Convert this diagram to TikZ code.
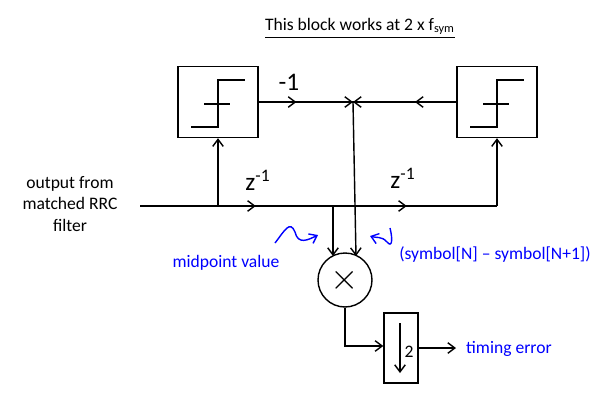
\documentclass[tikz,border=0pt]{standalone}
\usepackage{fontspec}
\setmainfont{Carlito}
\usetikzlibrary{arrows.meta,positioning,decorations.markings}
\tikzset{
  blk/.style={draw,thick,minimum width=1.6cm,minimum height=1.42cm},
  wire/.style={thick},
  midarrow/.style={thick,decoration={markings,mark=at position #1 with {\arrow{>}}},postaction={decorate}},
  note/.style={text=blue},
}
\begin{document}
\begin{tikzpicture}[x=0.02cm,y=-0.02cm,>={Straight Barb[length=4pt,width=6pt]}]
\useasboundingbox (0,0) rectangle (609,406);
% title
\node at (360,28) {\underline{This block works at 2 x f\textsubscript{sym}}};
% slicers
\node[blk] (lsl) at (218,102) {};
\node[blk] (rsl) at (497,102) {};
\foreach \s in {lsl,rsl}{
  \draw[wire] (\s.center) ++(-27,25) -- ++(27,0) -- ++(0,-47) -- ++(27,0);
  \draw[wire] (\s.center) ++(-14,2) -- ++(26,0);
}
\coordinate (jn) at (353,102);
\draw[midarrow=0.4] (lsl.east) -- (jn);
\draw[midarrow=0.4] (rsl.west) -- (jn);
\draw[thick,->] (lsl.east) -- (jn);
\draw[thick,->] (rsl.west) -- (jn);
\node[font=\Large] at (289,82) {-1};
% main line
\coordinate (in) at (140,206);
\coordinate (ltap) at (218,206);
\coordinate (mtap) at (333,206);
\coordinate (rtap) at (497,206);
\draw[midarrow=0.6] (in) -- (mtap);
\draw[midarrow=0.45] (mtap) -- (rtap);
\draw[wire,->] (ltap) -- (lsl.south);
\draw[wire,->] (rtap) -- (rsl.south);
\node[font=\Large] at (258,180) {z\textsuperscript{-1}};
\node[font=\Large] at (403,178) {z\textsuperscript{-1}};
\node[align=center] at (70,204) {output from\\matched RRC\\filter};
% multiplier
\node[draw,thick,circle,minimum size=1.08cm,font=\huge] (mul) at (345,280) {$\times$};
\coordinate (mtop) at (333,256);
\coordinate (jbot) at (356,256);
\draw[wire,->] (mtap) -- (mtop);
\draw[wire,->] (jn) -- (jbot);
% downsampler
\node[draw,thick,minimum width=0.68cm,minimum height=1.4cm] (dec) at (401,348) {};
\draw[wire,->] (dec.center) ++(-1,-25) -- ++(0,50);
\node at (409,352) {2};
\draw[wire,->] (mul.south) |- (dec.west |- 0,346);
\coordinate (out) at (456,348);
\draw[wire,->] (dec.east |- out) -- (out);
\node[note,anchor=west] at (460,349) {timing error};
% notes
\node[note] at (226,263) {midpoint value};
\node[note] at (495,254) {(symbol[N] -- symbol[N+1])};
\draw[blue,thick,->] (275,243) .. controls (285,230) and (290,220) .. (295,232) .. controls (298,245) and (308,240) .. (318,235);
\draw[blue,thick,->] (390,228) .. controls (393,240) and (392,248) .. (387,242) .. controls (382,236) and (376,238) .. (370,236);
\end{tikzpicture}
\end{document}
